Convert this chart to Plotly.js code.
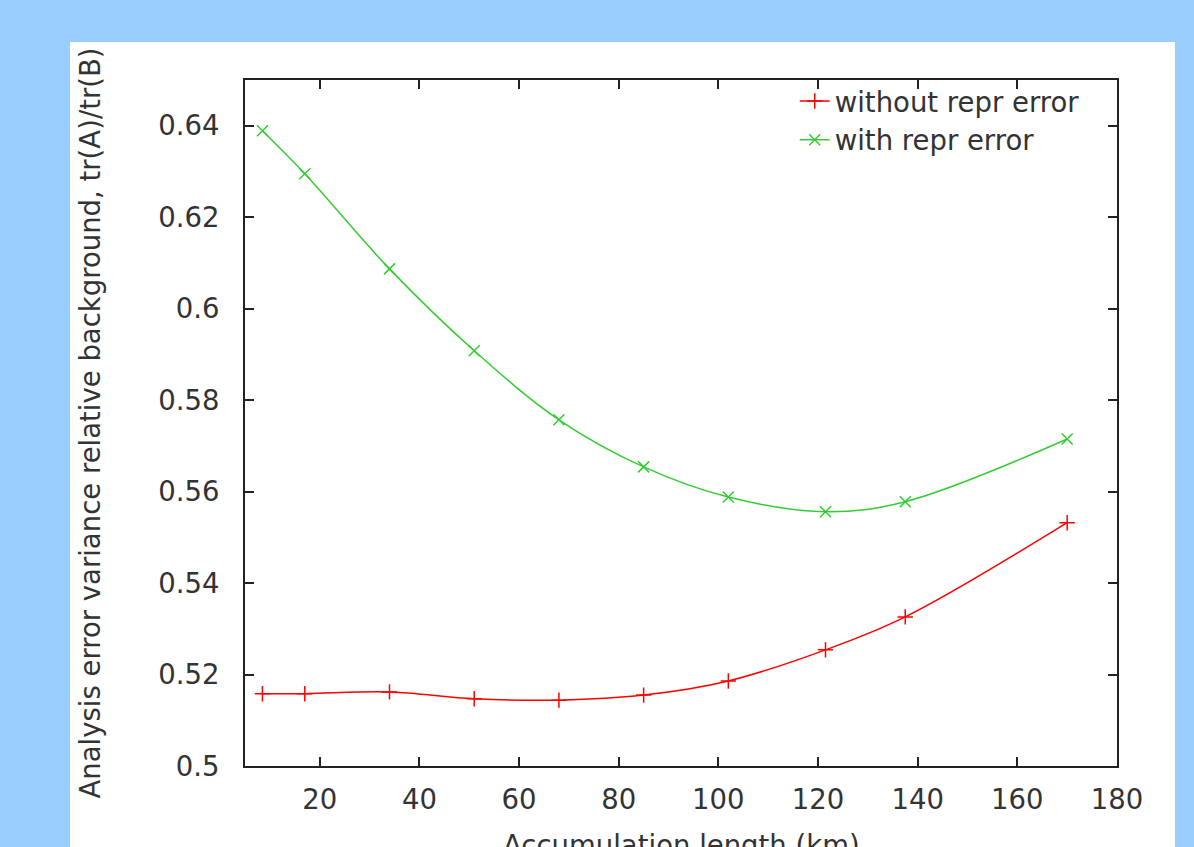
<!DOCTYPE html>
<html>
<head>
<meta charset="utf-8">
<script src="https://cdn.plot.ly/plotly-3.0.1.min.js"></script>
<style>html,body{margin:0;padding:0;background:#99ccff;}#chart{width:1194px;height:847px;}</style>
</head>
<body>
<div id="chart"></div>
<script>
const accumulationKm = [8.5, 17, 34, 51, 68, 85, 102, 121.5, 137.5, 170];
const withoutReprError = [0.5158, 0.5158, 0.5162, 0.5147, 0.5144, 0.5155, 0.5186, 0.5254, 0.5326, 0.5532];
const withReprError = [0.6389, 0.6295, 0.6087, 0.5908, 0.5757, 0.5654, 0.5588, 0.5556, 0.5578, 0.5715];
const xTickVals = [20, 40, 60, 80, 100, 120, 140, 160, 180];
const xTickText = ["20", "40", "60", "80", "100", "120", "140", "160", "180"];
const yTickVals = [0.5, 0.52, 0.54, 0.56, 0.58, 0.6, 0.62, 0.64];
const yTickText = ["0.5", "0.52", "0.54", "0.56", "0.58", "0.6", "0.62", "0.64"];
const seriesNames = ["without repr error", "with repr error"];
const xTitle = "Accumulation length (km)";
const yTitle = "Analysis error variance relative background, tr(A)/tr(B)";

const font = {family: "DejaVu Sans, sans-serif", size: 27.5, color: "#333333"};

const traces = [
  {
    x: accumulationKm, y: withoutReprError, name: seriesNames[0],
    type: "scatter", mode: "lines+markers",
    line: {color: "#ff0000", width: 1.5, shape: "spline", smoothing: 1},
    marker: {symbol: "cross-thin-open", size: 11, line: {color: "#ff0000", width: 1.5}, color: "#ff0000"}
  },
  {
    x: accumulationKm, y: withReprError, name: seriesNames[1],
    type: "scatter", mode: "lines+markers",
    line: {color: "#33cc33", width: 1.5, shape: "spline", smoothing: 1},
    marker: {symbol: "x-thin-open", size: 11, line: {color: "#33cc33", width: 1.5}, color: "#33cc33"}
  }
];

const axisCommon = {
  showline: true, linecolor: "#222222", linewidth: 2, mirror: "ticks",
  ticks: "inside", ticklen: 9, tickwidth: 2, tickcolor: "#222222",
  showgrid: false, zeroline: false, tickfont: font, tickmode: "array"
};

const layout = {
  width: 1194, height: 847,
  paper_bgcolor: "#99ccff", plot_bgcolor: "#ffffff",
  margin: {l: 245, r: 77, t: 80, b: 81, pad: 0},
  font: font,
  showlegend: true,
  legend: {x: 0.963, y: 1.005, xanchor: "right", yanchor: "top", bgcolor: "rgba(0,0,0,0)", font: font, tracegroupgap: 0},
  xaxis: Object.assign({}, axisCommon, {
    range: [5, 180], tickvals: xTickVals, ticktext: xTickText, ticklabelstandoff: 8
  }),
  yaxis: Object.assign({}, axisCommon, {
    range: [0.5, 0.65], tickvals: yTickVals, ticktext: yTickText, ticklabelstandoff: 18,
    title: {text: yTitle, font: font, standoff: 50}
  }),
  annotations: [{
    text: xTitle, xref: "paper", yref: "paper", x: 0.5, y: -0.1152,
    xanchor: "center", yanchor: "middle", showarrow: false, font: font
  }],
  shapes: [{
    type: "rect", xref: "paper", yref: "paper", layer: "below",
    x0: -0.2007, x1: 1.0665, y0: -0.2, y1: 1.0554,
    fillcolor: "#ffffff", line: {width: 0}
  }]
};

Plotly.newPlot("chart", traces, layout, {displayModeBar: false, staticPlot: true});
</script>
</body>
</html>
